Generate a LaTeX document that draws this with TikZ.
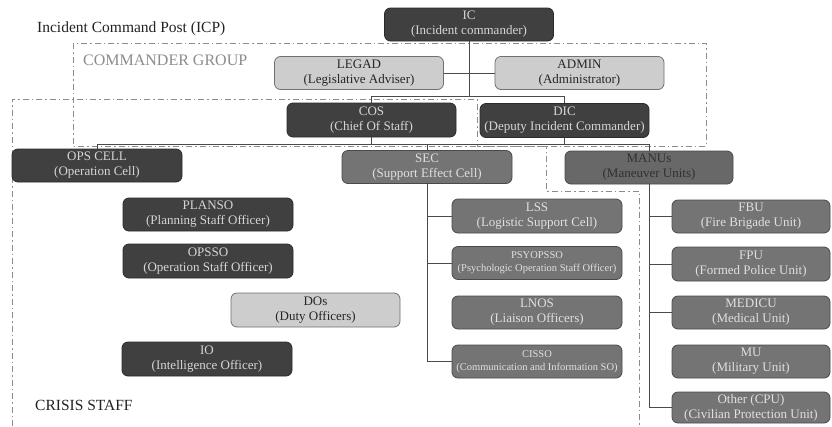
\documentclass[tikz,border=0pt]{standalone}
\usepackage{fontspec}
\setmainfont{Liberation Serif}
\definecolor{darkfill}{HTML}{404040}
\definecolor{darkline}{HTML}{2B2B2B}
\definecolor{darktext}{HTML}{D6D6D6}
\definecolor{lightfill}{HTML}{CDCDCD}
\definecolor{lightline}{HTML}{707070}
\definecolor{lighttext}{HTML}{262626}
\definecolor{midfill}{HTML}{747474}
\definecolor{midline}{HTML}{4A4A4A}
\definecolor{midtext}{HTML}{E0E0E0}
\definecolor{manusfill}{HTML}{686868}
\definecolor{manustext}{HTML}{303030}
\definecolor{connc}{HTML}{4A4A4A}
\definecolor{grpc}{HTML}{8C8C8C}
\definecolor{titlec}{HTML}{222222}
\begin{document}
\begin{tikzpicture}[x=1pt,y=-1pt,
  boxbase/.style={rounded corners=6pt, minimum height=33pt, minimum width=169pt, inner sep=0pt, align=center, font=\fontsize{13}{15}\selectfont, line width=0.8pt},
  darkbox/.style={boxbase, fill=darkfill, draw=darkline, text=darktext},
  lightbox/.style={boxbase, fill=lightfill, draw=lightline, text=lighttext},
  midbox/.style={boxbase, fill=midfill, draw=midline, text=midtext},
  manusbox/.style={boxbase, fill=manusfill, draw=midline, text=manustext},
  unitbox/.style={midbox, minimum width=158pt},
  smalltext/.style={font=\fontsize{10.5}{13}\selectfont},
  conn/.style={draw=connc, line width=0.8pt},
  grpline/.style={draw=grpc, line width=0.9pt, dash pattern=on 6pt off 3pt on 1.5pt off 3pt},
  label/.style={anchor=base west, inner sep=0pt}
]
\fill[white] (0,0) rectangle (832,426);
\useasboundingbox (0,0) rectangle (832,426);

% group outlines
\draw[grpline] (73,43) rectangle (706,146);
\draw[grpline] (12,426) -- (12,99) -- (477,99) -- (477,146) -- (546,146) -- (546,191) -- (639,191) -- (639,426);

% labels
\node[label, font=\fontsize{15.5}{18}\selectfont, text=titlec] (icp) at (37,32) {Incident Command Post (ICP)};
\node[label, font=\fontsize{16}{18}\selectfont, text=grpc] (cg) at (83,65) {COMMANDER GROUP};
\node[label, font=\fontsize{15.5}{18}\selectfont, text=titlec] (cs) at (35,410.7) {CRISIS STAFF};

% nodes
\node[darkbox] (IC) at (469,24.5) {IC\\(Incident commander)};
\node[lightbox] (LEGAD) at (359,73) {LEGAD\\(Legislative Adviser)};
\node[lightbox] (ADMIN) at (579.5,73) {ADMIN\\(Administrator)};
\node[darkbox, minimum height=34pt] (COS) at (371.5,120) {COS\\(Chief Of Staff)};
\node[darkbox, minimum height=34pt] (DIC) at (564.5,120.5) {DIC\\(Deputy Incident Commander)};
\node[darkbox, minimum width=170pt] (OPS) at (97,165.5) {OPS CELL\\(Operation Cell)};
\node[midbox, minimum width=170pt] (SEC) at (427,167) {SEC\\(Support Effect Cell)};
\node[manusbox, minimum width=168pt] (MANUs) at (649,167.5) {MANUs\\(Maneuver Units)};

\node[darkbox, minimum width=170pt] (PLANSO) at (208,214.5) {PLANSO\\(Planning Staff Officer)};
\node[darkbox, minimum width=170pt, minimum height=34pt] (OPSSO) at (208,261) {OPSSO\\(Operation Staff Officer)};
\node[lightbox, minimum height=34pt] (DOs) at (315.5,310) {DOs\\(Duty Officers)};
\node[darkbox, minimum width=170pt, minimum height=34pt] (IO) at (207,359) {IO\\(Intelligence Officer)};

\node[midbox, minimum width=170pt, minimum height=34pt] (LSS) at (537,216) {LSS\\(Logistic Support Cell)};
\node[midbox, minimum width=170pt, smalltext] (PSY) at (537,263) {PSYOPSSO\\(Psychologic Operation Staff Officer)};
\node[midbox, minimum width=170pt] (LNOS) at (537,312.5) {LNOS\\(Liaison Officers)};
\node[midbox, minimum width=170pt, smalltext] (CISSO) at (537,361.5) {CISSO\\(Communication and Information SO)};

\node[unitbox] (FBU) at (751,216.5) {FBU\\(Fire Brigade Unit)};
\node[unitbox, minimum height=34pt] (FPU) at (751,264) {FPU\\(Formed Police Unit)};
\node[unitbox] (MEDICU) at (751,312.5) {MEDICU\\(Medical Unit)};
\node[unitbox] (MU) at (751,361.5) {MU\\(Military Unit)};
\node[unitbox, minimum height=31pt] (Other) at (751,407.5) {Other (CPU)\\(Civilian Protection Unit)};

% connectors
\coordinate (cbus) at (0,96);
\coordinate (sbus) at (0,144);
\draw[conn] (IC.south) -- (IC.south |- cbus);
\draw[conn] (COS.north) -- (COS.north |- cbus) -| (DIC.north);
\draw[conn] (LEGAD.east) -- (ADMIN.west);
\draw[conn] (COS.south) -- (COS.south |- sbus);
\draw[conn] (DIC.south) -- (DIC.south |- sbus);
\draw[conn] (OPS.north) -- (OPS.north |- sbus) -| (MANUs.north);
\draw[conn] (SEC.north) -- (SEC.north |- sbus);
\draw[conn] (SEC.south) |- (CISSO.west);
\draw[conn] (SEC.south |- LSS.west) -- (LSS.west);
\draw[conn] (SEC.south |- PSY.west) -- (PSY.west);
\draw[conn] (MANUs.south) |- (Other.west);
\draw[conn] (MANUs.south |- FBU.west) -- (FBU.west);
\draw[conn] (MANUs.south |- FPU.west) -- (FPU.west);
\draw[conn] (MANUs.south |- MEDICU.west) -- (MEDICU.west);
\end{tikzpicture}
\end{document}
